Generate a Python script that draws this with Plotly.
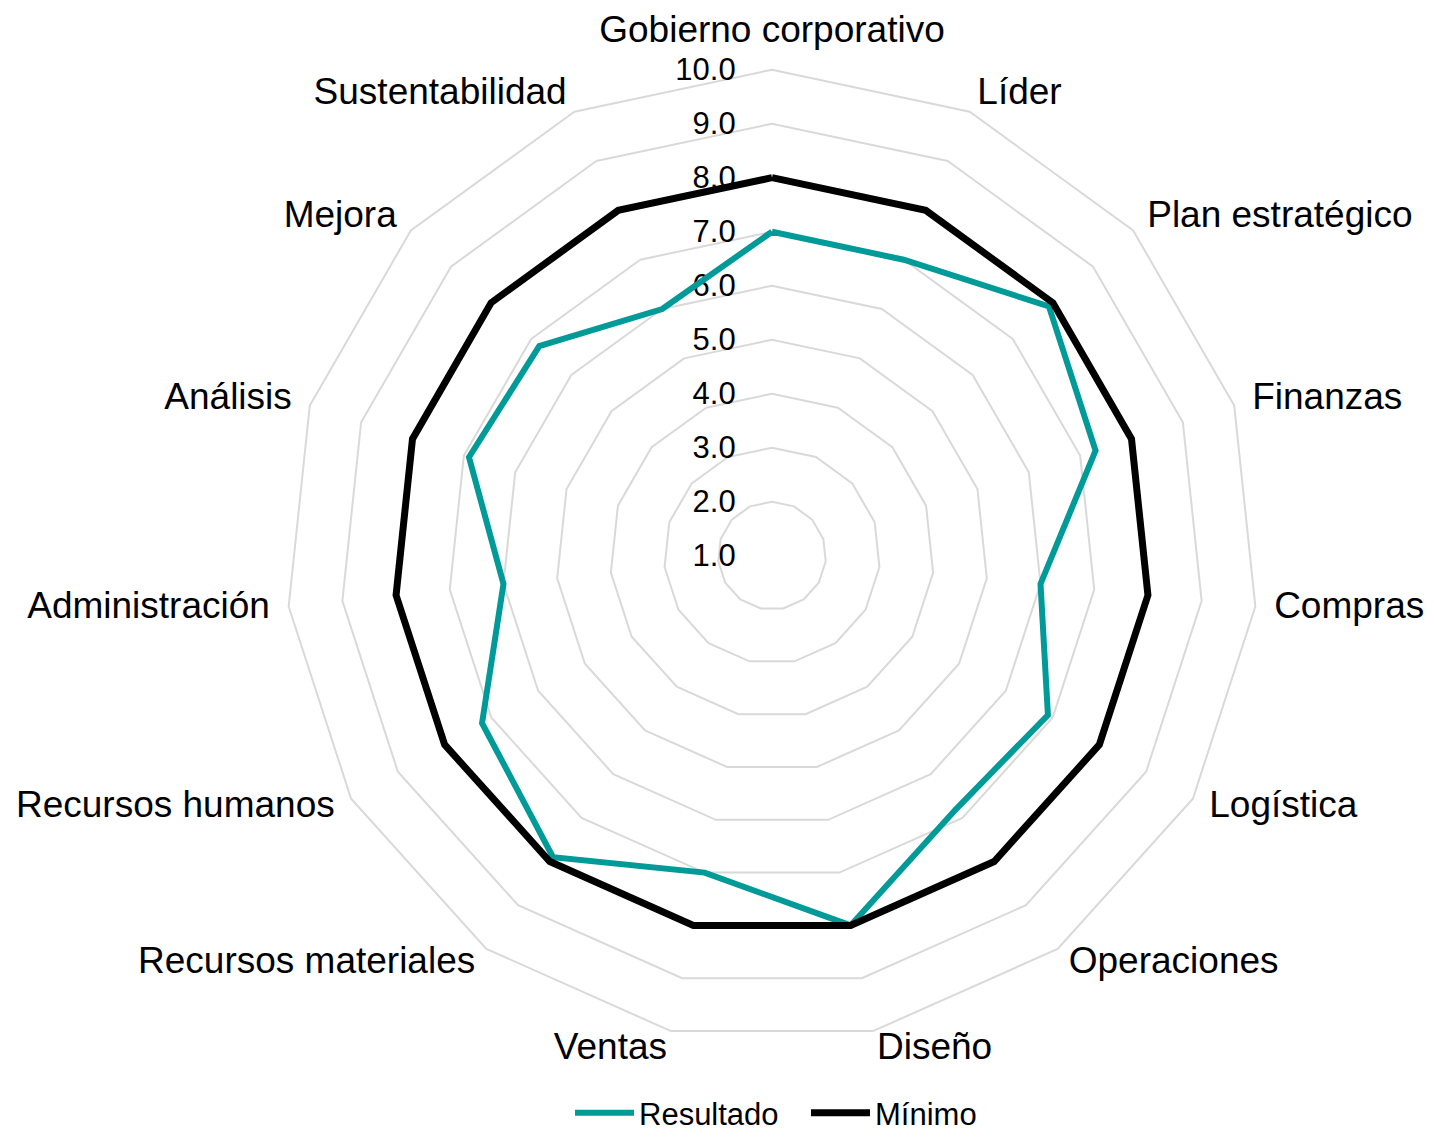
import plotly.graph_objects as go

categories = ["Gobierno corporativo", "Líder", "Plan estratégico", "Finanzas", "Compras",
              "Logística", "Operaciones", "Diseño", "Ventas", "Recursos materiales",
              "Recursos humanos", "Administración", "Análisis", "Mejora", "Sustentabilidad"]
resultado = [7.0, 7.0, 7.9, 7.3, 6.0, 6.9, 6.8, 8.0, 7.0, 7.9, 7.2, 6.0, 6.9, 6.8, 6.0]
minimo = [8.0, 8.0, 8.0, 8.0, 8.0, 8.0, 8.0, 8.0, 8.0, 8.0, 8.0, 8.0, 8.0, 8.0, 8.0]
tick_vals = [1, 2, 3, 4, 5, 6, 7, 8, 9, 10]
tick_text = ["1.0", "2.0", "3.0", "4.0", "5.0", "6.0", "7.0", "8.0", "9.0", "10.0"]

FONT = "Liberation Sans, Arial, sans-serif"
GRID = "#d9d9d9"
R_MIN, R_MAX = 1, 10.5   # axis range extends a bit past the outer ring (10)
LABEL_R = 10.35          # category labels sit just outside the outer ring

# text anchor for each category label, derived from its angle
n = len(categories)
label_pos = []
for i in range(n):
    a = i * 360.0 / n
    if a == 0:
        label_pos.append("top center")
    elif a < 180:
        label_pos.append("middle right")
    else:
        label_pos.append("middle left")

fig = go.Figure()
fig.add_trace(go.Scatterpolar(
    r=resultado + resultado[:1], theta=categories + categories[:1],
    mode="lines", name="Resultado",
    line=dict(color="#009A98", width=6)))
fig.add_trace(go.Scatterpolar(
    r=minimo + minimo[:1], theta=categories + categories[:1],
    mode="lines", name="Mínimo",
    line=dict(color="#000000", width=7)))
fig.add_trace(go.Scatterpolar(
    r=[LABEL_R] * n, theta=categories, mode="text", text=categories,
    textposition=label_pos, cliponaxis=False, showlegend=False, hoverinfo="skip",
    textfont=dict(size=37, family=FONT, color="black")))

OFF = 8  # default body margin of the html page
W, H = 1434 - 2 * OFF, 1143 - 2 * OFF
UNIT = 54.0                                  # px per radial unit
cx, cy = 772 - OFF, 555.7 - OFF
R = UNIT * (R_MAX - R_MIN)
fig.update_layout(
    width=W, height=H,
    margin=dict(l=0, r=0, t=0, b=0, autoexpand=False),
    paper_bgcolor="white", plot_bgcolor="white",
    font=dict(family=FONT, color="black"),
    polar=dict(
        domain=dict(x=[(cx - R) / W, (cx + R) / W],
                    y=[(H - cy - R) / H, (H - cy + R) / H]),
        bgcolor="white",
        gridshape="linear",
        radialaxis=dict(range=[R_MIN, R_MAX], tickvals=tick_vals, ticktext=tick_text,
                        angle=90, tickangle=90, side="counterclockwise",
                        showline=False, ticks="outside", ticklen=25,
                        tickcolor="rgba(0,0,0,0)",
                        gridcolor=GRID, gridwidth=1.5,
                        tickfont=dict(size=31, family=FONT, color="black"),
                        layer="below traces"),
        angularaxis=dict(rotation=90, direction="clockwise",
                         showgrid=False, showline=False,
                         ticks="", showticklabels=False,
                         layer="below traces"),
    ),
    legend=dict(orientation="h", x=798 / W, xanchor="center", y=22 / H, yanchor="middle",
                font=dict(size=31, family=FONT, color="black"),
                bgcolor="rgba(0,0,0,0)", itemwidth=59, entrywidth=162),
    showlegend=True,
)

fig.write_html("out.html")
